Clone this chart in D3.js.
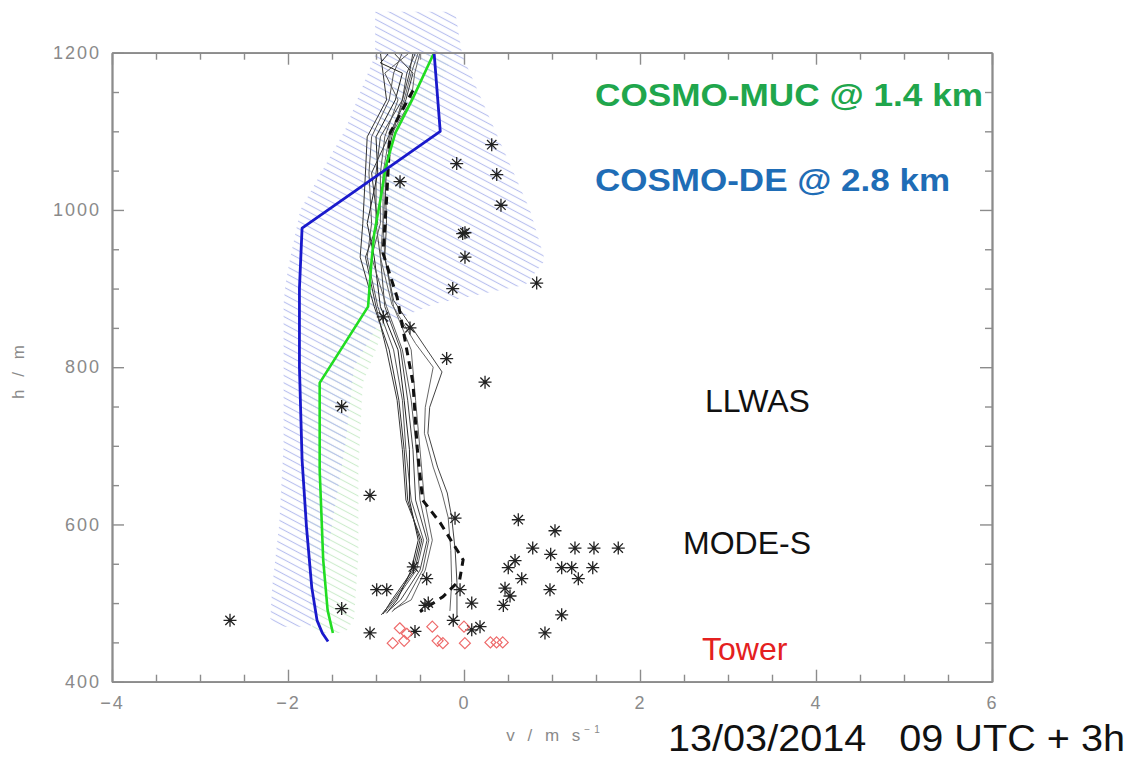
<!DOCTYPE html>
<html>
<head>
<meta charset="utf-8">
<script src="https://cdn.jsdelivr.net/npm/d3@7/dist/d3.min.js"></script>
<style>
  html, body { margin: 0; padding: 0; background: #fff; }
  svg { display: block; font-family: "Liberation Sans", Arial, sans-serif; }
</style>
</head>
<body>
<svg id="chart" width="1130" height="758"></svg>
<script>
// ---------------- data ----------------
const xTicks = [-4, -2, 0, 2, 4, 6];
const yTicks = [400, 600, 800, 1000, 1200];
const xTickLabels = ["\u22124", "\u22122", "0", "2", "4", "6"];

// model profiles [height m, v m/s]
const cosmoDE = [[1200, -0.34], [1100, -0.27], [977, -1.84], [900, -1.87], [800, -1.87],
  [682, -1.84], [597, -1.79], [520, -1.73], [478, -1.67], [462, -1.61], [451, -1.545]];
const cosmoMUC = [[1200, -0.34], [1140, -0.59], [1098, -0.78], [1055, -0.89], [1013, -0.95],
  [970, -1.02], [936, -1.05], [877, -1.09], [780, -1.64], [669, -1.64], [555, -1.60],
  [491, -1.55], [462, -1.49]];

// ensemble spread bands [height, v left, v right]
const spreadDE = [[1252, -1.01, -0.10], [1197, -1.01, -0.02], [1102, -1.35, 0.35],
  [1000, -1.86, 0.75], [936, -1.98, 0.92], [905, -2.03, 0.70], [880, -2.05, -0.35],
  [850, -2.05, -1.00], [800, -2.05, -1.25], [700, -2.05, -1.35], [600, -2.10, -1.50],
  [520, -2.18, -1.60], [480, -2.20, -1.70], [470, -2.10, -1.75]];
const spreadMUC = [[1200, -0.60, -0.10], [1100, -1.00, -0.55], [1000, -1.20, -0.70],
  [880, -1.35, -0.80], [780, -1.85, -1.15], [670, -1.85, -1.20], [560, -1.80, -1.20],
  [480, -1.75, -1.25], [462, -1.70, -1.35]];

// individual observed profiles [height, v]
const run1 = [[1200,-0.95],[1174,-0.92],[1140,-0.88],[1093,-1.10],[1047,-1.12],[983,-1.15],[940,-1.18],[877,-1.02],[822,-0.85],[758,-0.74],[695,-0.68],[631,-0.64],[580,-0.50],[542,-0.58],[504,-0.82],[486,-0.92]];
const run2 = [[1200,-0.70],[1174,-0.80],[1140,-0.85],[1093,-1.05],[1047,-1.08],[983,-1.05],[940,-1.10],[877,-0.98],[822,-0.80],[758,-0.70],[695,-0.66],[631,-0.60],[580,-0.46],[542,-0.54],[504,-0.78],[488,-0.90]];
const run3 = [[1200,-0.55],[1174,-0.65],[1140,-0.70],[1093,-0.95],[1047,-1.00],[983,-1.00],[940,-0.95],[877,-0.90],[822,-0.72],[758,-0.64],[695,-0.58],[631,-0.55],[580,-0.42],[542,-0.50],[504,-0.72],[490,-0.86]];
const run4 = [[1200,-0.50],[1174,-0.56],[1140,-0.60],[1093,-0.84],[1047,-0.88],[983,-0.92],[940,-0.90],[877,-0.80],[822,-0.60],[758,-0.55],[695,-0.50],[631,-0.45],[580,-0.36],[542,-0.44],[504,-0.60],[492,-0.80]];
const run5 = [[1200,-0.85],[1187,-0.95],[1174,-0.70],[1140,-0.78],[1093,-1.00],[1047,-0.98],[983,-1.10],[940,-1.02],[877,-0.95],[822,-0.75],[758,-0.68],[695,-0.62],[631,-0.62],[580,-0.52],[542,-0.60],[504,-0.76],[487,-0.88]];
const run6 = [[1200,-0.62],[1174,-0.90],[1140,-0.75],[1093,-0.90],[1047,-0.95],[983,-0.95],[940,-1.05],[877,-0.88],[822,-0.70],[758,-0.60],[695,-0.54],[631,-0.50],[580,-0.40],[542,-0.47],[504,-0.66],[489,-0.82]];
const run7 = [[1200,-0.80],[1174,-0.58],[1140,-0.66],[1093,-0.86],[1047,-1.05],[983,-0.98],[940,-1.12],[877,-1.00],[822,-0.88],[758,-0.76],[695,-0.70],[631,-0.66],[580,-0.48],[542,-0.56],[504,-0.80],[485,-0.94]];
const run8 = [[1200,-0.58],[1174,-0.62],[1140,-0.70],[1093,-0.82],[1047,-0.90],[983,-0.88],[940,-0.90],[885,-0.80],[822,-0.42],[794,-0.25],[749,-0.39],[716,-0.41],[673,-0.30],[640,-0.19],[609,-0.14],[567,-0.10],[526,-0.08],[482,-0.08]];
const run9 = [[1200,-0.52],[1174,-0.60],[1140,-0.68],[1093,-0.85],[1047,-0.92],[983,-0.92],[940,-0.95],[880,-0.82],[830,-0.55],[800,-0.35],[749,-0.44],[716,-0.45],[673,-0.35],[640,-0.25],[609,-0.18],[567,-0.15],[526,-0.14],[490,-0.16]];
const profileRuns = [run1, run2, run3, run4, run5, run6, run7, run8, run9];
const runColors = ["#333", "#555", "#444", "#666", "#222", "#5a5a5a", "#3a3a3a", "#444", "#666"];

// mean profile (dashed)
const profileMean = [[1152,-0.58],[1098,-0.84],[1013,-0.88],[945,-0.92],[889,-0.76],[822,-0.65],
  [780,-0.58],[695,-0.53],[631,-0.47],[602,-0.27],[555,-0.01],[529,-0.05],[508,-0.24],[489,-0.50]];

// MODE-S aircraft observations [height, v]
const modeS = [[1083,0.315],[1059,-0.083],[1045,0.372],[1006,0.420],[970,-0.015],[971,0.011],
  [940,0.011],[900,-0.128],[907,0.826],[1036,-0.727],[850,-0.614],[864,-0.917],[811,-0.197],
  [781,0.239],[750,-1.39],[637,-1.068],[608,-0.102],[606,0.617],[592,1.034],[570,0.781],
  [562,0.985],[570,1.261],[570,1.477],[570,1.753],[554,0.580],[545,0.503],[545,1.110],
  [545,1.224],[545,1.463],[531,0.656],[531,1.299],[519,0.466],[517,0.977],[509,0.523],
  [497,0.447],[500,0.088],[517,-0.045],[497,-0.443],[478,-0.122],[485,1.110],[462,0.920],
  [464,-0.557],[466,0.088],[470,0.182],[546,-0.576],[531,-0.424],[500,-0.406],[517,-0.992],
  [517,-0.878],[493,-1.390],[462,-1.068],[478,-2.659]];

// tower observations [height, v]
const tower = [[468,-0.73],[461,-0.65],[449,-0.81],[452,-0.68],[470,-0.36],[452,-0.30],
  [449,-0.24],[470,0.00],[449,0.01],[450,0.30],[450,0.37],[450,0.44]];

// ---------------- drawing ----------------
const svg = d3.select("#chart");
const x = d3.scaleLinear().domain([-4, 6]).range([112, 992]);
const y = d3.scaleLinear().domain([400, 1200]).range([681.7, 52.7]);

const defs = svg.append("defs");
function hatch(id, color, angle, gap, width) {
  const p = defs.append("pattern").attr("id", id)
    .attr("patternUnits", "userSpaceOnUse")
    .attr("width", 12).attr("height", gap)
    .attr("patternTransform", `rotate(${angle})`);
  p.append("line").attr("x1", 0).attr("x2", 12)
    .attr("y1", gap / 2).attr("y2", gap / 2)
    .attr("stroke", color).attr("stroke-width", width);
}
hatch("hatchDE", "#b9c0ef", 28, 6.5, 1.1);
hatch("hatchMUC", "#cdeccd", 28, 6.5, 1.1);

const band = d3.area().y(d => y(d[0])).x0(d => x(d[1])).x1(d => x(d[2]));
svg.append("path").datum(spreadMUC).attr("d", band).attr("fill", "url(#hatchMUC)");
svg.append("path").datum(spreadDE).attr("d", band).attr("fill", "url(#hatchDE)");

const prof = d3.line().x(d => x(d[1])).y(d => y(d[0]));

// observed profiles
svg.append("g").selectAll("path").data(profileRuns).join("path")
  .attr("d", prof).attr("fill", "none")
  .attr("stroke", (d, i) => runColors[i]).attr("stroke-width", 1);

svg.append("path").datum(profileMean).attr("d", prof)
  .attr("fill", "none").attr("stroke", "#111").attr("stroke-width", 3)
  .attr("stroke-dasharray", "8,6");

// model profiles
svg.append("path").datum(cosmoMUC).attr("d", prof)
  .attr("fill", "none").attr("stroke", "#22dd22").attr("stroke-width", 2.6)
  .attr("stroke-linejoin", "round");
svg.append("path").datum(cosmoDE).attr("d", prof)
  .attr("fill", "none").attr("stroke", "#1a1acc").attr("stroke-width", 2.8)
  .attr("stroke-linejoin", "round");

// MODE-S asterisks
const r = 6.5, q = r * 0.72;
const starPath = `M${-r},0H${r}M0,${-r}V${r}M${-q},${-q}L${q},${q}M${-q},${q}L${q},${-q}`;
svg.append("g").selectAll("path").data(modeS).join("path")
  .attr("d", starPath)
  .attr("transform", d => `translate(${x(d[1])},${y(d[0])})`)
  .attr("fill", "none").attr("stroke", "#222").attr("stroke-width", 1.3);

// tower diamonds
const s = 5.5;
const diamond = `M0,${-s}L${s},0L0,${s}L${-s},0Z`;
svg.append("g").selectAll("path").data(tower).join("path")
  .attr("d", diamond)
  .attr("transform", d => `translate(${x(d[1])},${y(d[0])})`)
  .attr("fill", "none").attr("stroke", "#ee6a6a").attr("stroke-width", 1.2);

// ---------------- axes ----------------
const axisColor = "#8c8c8c";
const minorX = d3.range(-4, 6.01, 0.5).filter(v => !xTicks.includes(v));
const minorY = d3.range(400, 1201, 50).filter(v => !yTicks.includes(v));

function styleAxis(g) {
  g.selectAll("path.domain").attr("stroke", axisColor).attr("stroke-width", 1.8);
  g.selectAll(".tick line").attr("stroke", axisColor).attr("stroke-width", 1.4);
  g.selectAll("text").attr("fill", "#8a8a8a")
    .style("font-family", "'Liberation Sans', Arial, sans-serif")
    .style("font-size", "18px").style("letter-spacing", "2px");
}

// bottom
svg.append("g").attr("transform", "translate(0,681.7)")
  .call(d3.axisBottom(x).tickValues(xTicks).tickSizeInner(-12).tickSizeOuter(0)
    .tickPadding(15).tickFormat((d, i) => xTickLabels[i]))
  .call(styleAxis);
svg.append("g").attr("transform", "translate(0,681.7)")
  .call(d3.axisBottom(x).tickValues(minorX).tickSizeInner(-7).tickSizeOuter(0).tickFormat(""))
  .call(styleAxis);
// top
svg.append("g").attr("transform", "translate(0,52.7)")
  .call(d3.axisTop(x).tickValues(xTicks).tickSizeInner(-12).tickSizeOuter(0).tickFormat(""))
  .call(styleAxis);
svg.append("g").attr("transform", "translate(0,52.7)")
  .call(d3.axisTop(x).tickValues(minorX).tickSizeInner(-7).tickSizeOuter(0).tickFormat(""))
  .call(styleAxis);
// left
svg.append("g").attr("transform", "translate(112,0)")
  .call(d3.axisLeft(y).tickValues(yTicks).tickSizeInner(-12).tickSizeOuter(0)
    .tickPadding(11).tickFormat(d3.format("d")))
  .call(styleAxis);
svg.append("g").attr("transform", "translate(112,0)")
  .call(d3.axisLeft(y).tickValues(minorY).tickSizeInner(-7).tickSizeOuter(0).tickFormat(""))
  .call(styleAxis);
// right
svg.append("g").attr("transform", "translate(992,0)")
  .call(d3.axisRight(y).tickValues(yTicks).tickSizeInner(-12).tickSizeOuter(0).tickFormat(""))
  .call(styleAxis);
svg.append("g").attr("transform", "translate(992,0)")
  .call(d3.axisRight(y).tickValues(minorY).tickSizeInner(-7).tickSizeOuter(0).tickFormat(""))
  .call(styleAxis);

// axis titles
const xt = svg.append("text").attr("x", 555).attr("y", 741).attr("text-anchor", "middle")
  .attr("fill", "#8a8a8a").style("font-size", "17px").style("letter-spacing", "4px");
xt.append("tspan").text("v / m s");
xt.append("tspan").attr("dy", -8).style("font-size", "10px").text("\u22121");

svg.append("text").attr("transform", "translate(24,370) rotate(-90)")
  .attr("text-anchor", "middle").attr("fill", "#8a8a8a")
  .style("font-size", "17px").style("letter-spacing", "4px").text("h / m");

// legend and annotations
svg.append("text").attr("x", 595).attr("y", 106).attr("fill", "#20a64c")
  .attr("textLength", 388).attr("lengthAdjust", "spacingAndGlyphs")
  .style("font-size", "32px").style("font-weight", "bold").text("COSMO-MUC @ 1.4 km");
svg.append("text").attr("x", 595).attr("y", 191).attr("fill", "#1f6db6")
  .attr("textLength", 355).attr("lengthAdjust", "spacingAndGlyphs")
  .style("font-size", "32px").style("font-weight", "bold").text("COSMO-DE @ 2.8 km");

svg.append("text").attr("x", 705).attr("y", 412).attr("fill", "#111")
  .style("font-size", "32px").text("LLWAS");
svg.append("text").attr("x", 683).attr("y", 554).attr("fill", "#111")
  .style("font-size", "32px").text("MODE-S");
svg.append("text").attr("x", 702).attr("y", 660).attr("fill", "#e42020")
  .style("font-size", "32px").text("Tower");

svg.append("text").attr("x", 668).attr("y", 751).attr("fill", "#111")
  .attr("textLength", 457).attr("lengthAdjust", "spacingAndGlyphs")
  .style("font-size", "37px").style("white-space", "pre")
  .text("13/03/2014   09 UTC + 3h");
</script>
</body>
</html>
